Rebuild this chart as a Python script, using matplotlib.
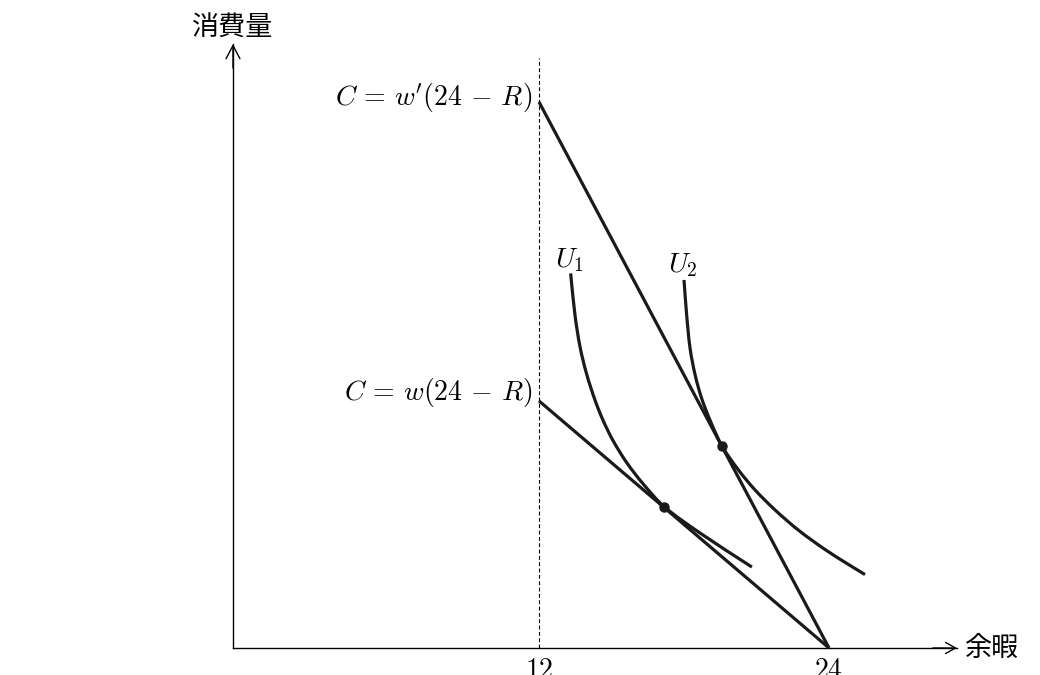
import matplotlib
matplotlib.use("Agg")
import matplotlib.pyplot as plt
import numpy as np
from matplotlib.path import Path
from matplotlib.patches import PathPatch

plt.rcParams['mathtext.fontset'] = 'cm'
plt.rcParams['font.family'] = ['Noto Sans CJK JP', 'DejaVu Sans']

# ---- data (R = leisure hours, C = consumption) ----
hours_total = 24
hours_work_cap = 12
wage_low = 0.852      # w
wage_high = 1.883     # w'
budget_R = [12, 24]

u1_R = [13.31, 13.49, 13.70, 13.97, 14.32, 14.66, 15.07, 15.63, 16.31, 17.18, 18.66, 20.81]
u1_C = [15.50, 13.77, 12.45, 11.34, 10.25, 9.40, 8.57, 7.67, 6.79, 5.85, 4.76, 3.35]
u2_R = [18.00, 18.11, 18.25, 18.46, 18.73, 19.08, 19.57, 20.25, 20.94, 21.77, 22.73, 23.83, 24.80, 25.49]
u2_C = [15.23, 13.78, 12.41, 11.30, 10.33, 9.42, 8.36, 7.37, 6.54, 5.71, 4.88, 4.08, 3.46, 3.04]
tangent_R = [17.18, 19.57]
tangent_C = [5.85, 8.36]

tick_values = [12, 24]
tick_labels = ['$12$', '$24$']
label_low = r'$C\,=\,w(24\,-\,R)$'
label_high = r"$C\,=\,w'(24\,-\,R)$"
x_label = '余暇'
y_label = '消費量'

# ---- layout ----
W, H = 1040, 675
s = 290 / 12.0  # px per unit
fig = plt.figure(figsize=(W / 100, H / 100), dpi=100)
ax = fig.add_axes([0, 0, 1, 1])
ax.set_xlim(12 - 539 / s, 12 + (W - 539) / s)
ax.set_ylim((648 - H) / s, 648 / s)
ax.axis('off')

ax_x0 = 12 - (539 - 233) / s
ax_xend = 12 + (957 - 539) / s
ax_yend = (648 - 44) / s
dash_top = (648 - 58) / s

# axes with open arrowheads
ax.plot([ax_x0, ax_xend], [0, 0], color='black', lw=1.0)
ax.plot([ax_x0, ax_x0], [0, ax_yend], color='black', lw=1.0)
ax.annotate('', xy=(ax_xend, 0), xytext=(ax_xend - 1, 0),
            arrowprops=dict(arrowstyle='->,head_length=0.72,head_width=0.4', lw=1.0, color='black',
                            shrinkA=0, shrinkB=0, mutation_scale=10))
ax.annotate('', xy=(ax_x0, ax_yend), xytext=(ax_x0, ax_yend - 1),
            arrowprops=dict(arrowstyle='->,head_length=0.95,head_width=0.5', lw=1.0, color='black',
                            shrinkA=0, shrinkB=0, mutation_scale=10))

# dashed vertical at R=12
ax.plot([hours_work_cap, hours_work_cap], [0, dash_top], color='black', lw=0.8,
        linestyle=(0, (3.5, 2.2)))

# budget lines
for w in (wage_low, wage_high):
    ax.plot(budget_R, [w * (hours_total - r) for r in budget_R], color='#1a1a1a', lw=2.3,
            solid_capstyle='butt')


def smooth_path(xs, ys):
    """Chord-length Catmull-Rom through the read points, drawn as cubic Beziers."""
    pts = np.column_stack([xs, ys]).astype(float)
    n = len(pts)
    d = np.linalg.norm(np.diff(pts, axis=0), axis=1)
    t = np.concatenate([[0], np.cumsum(d)])
    m = np.zeros_like(pts)
    m[0] = (pts[1] - pts[0]) / (t[1] - t[0])
    m[-1] = (pts[-1] - pts[-2]) / (t[-1] - t[-2])
    for i in range(1, n - 1):
        m[i] = (pts[i + 1] - pts[i - 1]) / (t[i + 1] - t[i - 1])
    verts = [pts[0]]
    codes = [Path.MOVETO]
    for i in range(n - 1):
        h = t[i + 1] - t[i]
        verts += [pts[i] + m[i] * h / 3, pts[i + 1] - m[i + 1] * h / 3, pts[i + 1]]
        codes += [Path.CURVE4] * 3
    return Path(verts, codes)


for xs, ys in ((u1_R, u1_C), (u2_R, u2_C)):
    ax.add_patch(PathPatch(smooth_path(xs, ys), facecolor='none', edgecolor='#1a1a1a',
                           lw=2.3, capstyle='butt'))

ax.plot(tangent_R, tangent_C, 'o', color='#1a1a1a', markersize=6.5)

# labels
fs = 20
ax.text(12 - 7 / s, wage_high * 12 + 4 / s, label_high, ha='right', va='center', fontsize=fs)
ax.text(12 - 7 / s, wage_low * 12 + 8 / s, label_low, ha='right', va='center', fontsize=fs)
ax.text(u1_R[0] - 1 / s, u1_C[0] + 14 / s, '$U_1$', ha='center', va='center', fontsize=fs)
ax.text(u2_R[0] - 1 / s, u2_C[0] + 16 / s, '$U_2$', ha='center', va='center', fontsize=fs)

for v, t in zip(tick_values, tick_labels):
    ax.text(v, -7 / s, t, ha='center', va='top', fontsize=fs)

ax.text(ax_xend + 8 / s, 0, x_label, ha='left', va='center', fontsize=19.5,
        family=['Noto Sans CJK JP', 'DejaVu Sans'])
ax.text(ax_x0, ax_yend + 17 / s, y_label, ha='center', va='center', fontsize=19.5,
        family=['Noto Sans CJK JP', 'DejaVu Sans'])

fig.savefig('out.png', dpi=100)
